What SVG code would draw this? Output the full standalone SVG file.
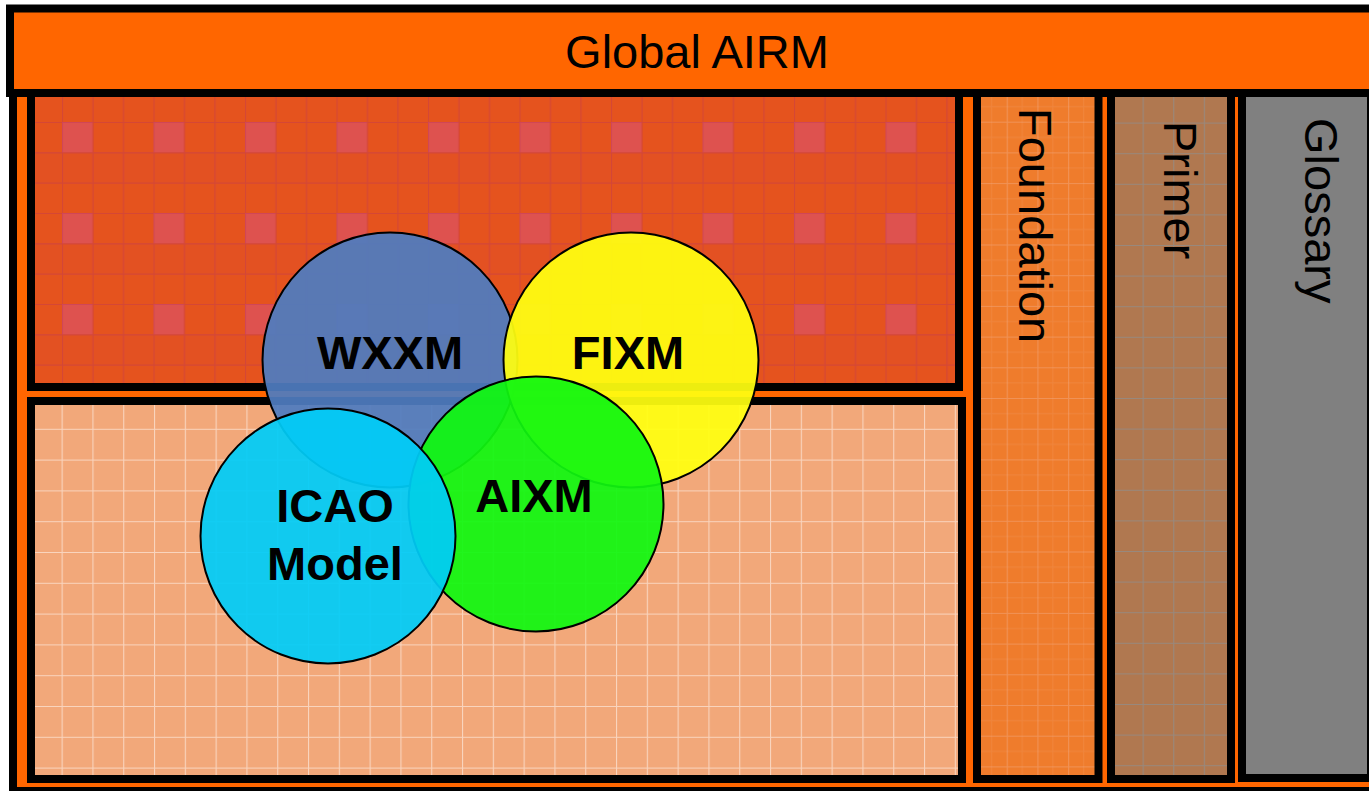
<svg xmlns="http://www.w3.org/2000/svg" width="1369" height="791" viewBox="0 0 1369 791">
  <style>
    .box { stroke: #000; stroke-width: 8; }
    .lbl { font-family: "Liberation Sans", Arial, sans-serif; font-size: 47px; fill: #000; }
    .bold { font-weight: bold; text-anchor: middle; }
    .circ { stroke: #000; stroke-width: 2; fill-opacity: 0.93; }
  </style>
  <defs>
    <pattern id="plaid" patternUnits="userSpaceOnUse" x="62" y="122" width="91.5" height="91">
      <rect width="91.5" height="91" fill="#E5531E"/>
      <rect x="0" y="0" width="30.5" height="30.3" fill="#D050A8" opacity="0.35"/>
      <rect x="0" y="30.3" width="91.5" height="30.3" fill="#B8306A" opacity="0.06"/>
      <path d="M0.5 0V91M31 0V91M61.5 0V91M0 0.5H91.5M0 30.8H91.5M0 61.1H91.5" stroke="#B02A6A" stroke-width="1.2" opacity="0.3"/>
    </pattern>
    <pattern id="salmon" patternUnits="userSpaceOnUse" x="0" y="398" width="30.8" height="30.8">
      <rect width="30.8" height="30.8" fill="#F2A87A"/>
      <path d="M0.5 0V30.8M0 0.5H30.8" stroke="#FFFFFF" stroke-width="1.2" opacity="0.5"/>
    </pattern>
    <pattern id="found" patternUnits="userSpaceOnUse" x="976" y="398" width="30.7" height="30.7">
      <rect width="30.7" height="30.7" fill="#EF7C2C"/>
      <path d="M0.5 0V30.7M0 0.5H30.7" stroke="#F2A880" stroke-width="1.2" opacity="0.5"/>
      <path d="M15.5 0V30.7M0 15.5H30.7" stroke="#F2A880" stroke-width="1" opacity="0.2"/>
    </pattern>
    <pattern id="primer" patternUnits="userSpaceOnUse" x="1112" y="398" width="30.6" height="30.6">
      <rect width="30.6" height="30.6" fill="#B07850"/>
      <path d="M0.5 0V30.6M0 0.5H30.6" stroke="#8E8E8E" stroke-width="1.2" opacity="0.7"/>
    </pattern>
  </defs>

  <g id="frame">
    <rect class="box" x="13" y="93" width="1400" height="698" fill="#FF6600"/>
  </g>
  <g id="global-airm">
    <rect class="box" x="10" y="8.5" width="1400" height="84.5" fill="#FF6600"/>
    <text class="lbl" x="697" y="68" text-anchor="middle">Global AIRM</text>
  </g>
  <g id="upper-area">
    <rect class="box" x="31" y="93" width="928" height="294" fill="url(#plaid)"/>
  </g>
  <g id="lower-area">
    <rect class="box" x="31" y="401" width="931" height="378" fill="url(#salmon)"/>
  </g>
  <g id="foundation">
    <rect class="box" x="977" y="93" width="121.5" height="686" fill="url(#found)"/>
    <text class="lbl" transform="translate(1019,108) rotate(90)">Foundation</text>
  </g>
  <g id="primer-col">
    <rect class="box" x="1111" y="93" width="120" height="686" fill="url(#primer)"/>
    <text class="lbl" transform="translate(1164,121) rotate(90)">Primer</text>
  </g>
  <g id="glossary">
    <rect class="box" x="1242" y="93" width="129" height="685" fill="#808080"/>
    <text class="lbl" transform="translate(1305,118) rotate(90)">Glossary</text>
  </g>

  <g id="wxxm">
    <circle class="circ" cx="390" cy="360" r="127.5" fill="#4F7CC0"/>
    <text class="lbl bold" x="390" y="369">WXXM</text>
  </g>
  <g id="fixm">
    <circle class="circ" cx="631" cy="360" r="127.5" fill="#FFFF10"/>
    <text class="lbl bold" x="628" y="369">FIXM</text>
  </g>
  <g id="aixm">
    <circle class="circ" cx="536" cy="504" r="127.5" fill="#10F810"/>
    <text class="lbl bold" x="534" y="512">AIXM</text>
  </g>
  <g id="icao">
    <circle class="circ" cx="328" cy="536" r="127.5" fill="#00CCF8"/>
    <text class="lbl bold" x="335" y="522">ICAO</text>
    <text class="lbl bold" x="335" y="580">Model</text>
  </g>
  <g id="connectors"/>
</svg>
